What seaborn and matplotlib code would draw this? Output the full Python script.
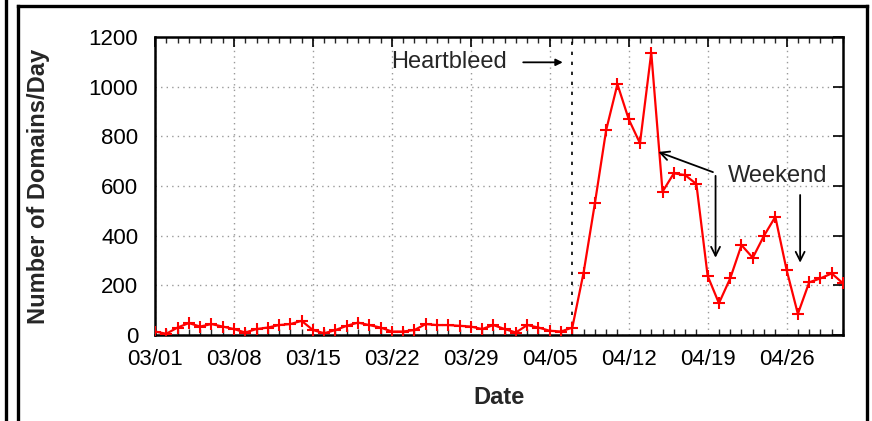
import numpy as np
import pandas as pd
import matplotlib
matplotlib.use("Agg")
import matplotlib.pyplot as plt
import matplotlib.dates as mdates
from matplotlib.lines import Line2D
import seaborn as sns

# ---- data ----
start_date = "2014-03-01"
end_date = "2014-05-01"
domains_per_day = [14, 5, 30, 48, 34, 44, 34, 24, 10, 24,
                   30, 40, 44, 57, 20, 7, 20, 37, 50, 40,
                   30, 14, 14, 20, 44, 40, 40, 37, 34, 24,
                   40, 24, 10, 40, 30, 17, 14, 30, 251, 530,
                   825, 1010, 869, 772, 1137, 577, 651, 644, 608, 238,
                   128, 228, 362, 311, 400, 476, 262, 85, 212, 228,
                   248, 208]
tick_labels = ["03/01", "03/08", "03/15", "03/22", "03/29", "04/05", "04/12", "04/19", "04/26"]
y_ticks = [0, 200, 400, 600, 800, 1000, 1200]
heartbleed_date = "2014-04-07"

dates = pd.date_range(start_date, end_date, freq="D")
df = pd.DataFrame({"Date": dates, "Domains": domains_per_day})

sns.set_style("white")
plt.rcParams["font.family"] = ["Liberation Sans", "DejaVu Sans"]

fig = plt.figure(figsize=(8.72, 4.21), dpi=100)
ax = fig.add_axes([155/872, 1-335/421, (843-155)/872, (335-37)/421])

sns.lineplot(data=df, x="Date", y="Domains", ax=ax, color="#ff0000",
             linewidth=1.6, marker="+", markersize=8.5, markeredgewidth=1.5,
             markeredgecolor="#ff0000", zorder=3)

x0 = mdates.date2num(pd.Timestamp(start_date))
x1 = mdates.date2num(pd.Timestamp(end_date))
ax.set_xlim(x0, x1)
ax.set_ylim(0, 1200)

tick_dates = [mdates.date2num(pd.Timestamp("2014-" + t.replace("/", "-"))) for t in tick_labels]
ax.set_xticks(tick_dates)
ax.set_xticklabels(tick_labels)
ax.set_xticks(mdates.date2num(dates), minor=True)
ax.set_yticks(y_ticks)
ax.set_yticklabels([str(v) for v in y_ticks])

ax.grid(True, which="major", color="#999999", linestyle=(0, (1, 3)), linewidth=1.0)
ax.tick_params(axis="both", which="major", direction="in", length=7, width=1.2,
               top=True, right=True, labelsize=16, colors="black")
ax.tick_params(axis="x", which="major", pad=10)
ax.tick_params(axis="y", which="major", pad=12)
ax.tick_params(axis="x", which="minor", direction="in", length=4, width=1.0,
               top=True, bottom=True)
for sp in ax.spines.values():
    sp.set_color("black")
    sp.set_linewidth(1.8)

ax.set_xlabel("Date", fontsize=17, fontweight="bold")
ax.set_ylabel("Number of Domains/Day", fontsize=17, fontweight="bold")
ax.xaxis.set_label_coords(0.5, -0.172)
ax.yaxis.set_label_coords(-0.152, 0.5)

# Heartbleed marker
hb = mdates.date2num(pd.Timestamp(heartbleed_date))
ax.plot([hb, hb], [0, 1200], color="black", linestyle=(0, (2, 4)), linewidth=1.2, zorder=2)
ax.text(hb - 10.9, 1098, "Heartbleed", fontsize=17, ha="center", va="center")
ax.annotate("", xy=(hb - 0.6, 1098), xytext=(hb - 4.6, 1098),
            arrowprops=dict(arrowstyle="-|>", color="black", lw=1.3, mutation_scale=10))

# Weekend annotation
wk1 = mdates.date2num(pd.Timestamp("2014-04-20")) - 0.3
wk2 = mdates.date2num(pd.Timestamp("2014-04-27")) + 0.2
ax.text(wk1 + 5.5, 640, "Weekend", fontsize=17, ha="center", va="center")
ax.annotate("", xy=(wk1 - 5.3, 741), xytext=(wk1, 652),
            arrowprops=dict(arrowstyle="->", color="black", lw=1.3, mutation_scale=16))
ax.annotate("", xy=(wk1, 300), xytext=(wk1, 652),
            arrowprops=dict(arrowstyle="->", color="black", lw=1.3, mutation_scale=16))
ax.annotate("", xy=(wk2, 280), xytext=(wk2, 575),
            arrowprops=dict(arrowstyle="->", color="black", lw=1.3, mutation_scale=16))

# Outer frame lines
W, H = 872, 421
def fl(xs, ys):
    fig.add_artist(Line2D([x / W for x in xs], [1 - y / H for y in ys],
                          transform=fig.transFigure, color="black", linewidth=2.4,
                          solid_capstyle="projecting"))
fl([5.5, 5.5], [0, 421])
fl([17.5, 17.5], [6, 421])
fl([17.5, 867], [6, 6])
fl([867, 867], [6, 421])

fig.savefig("out.png", dpi=100)
